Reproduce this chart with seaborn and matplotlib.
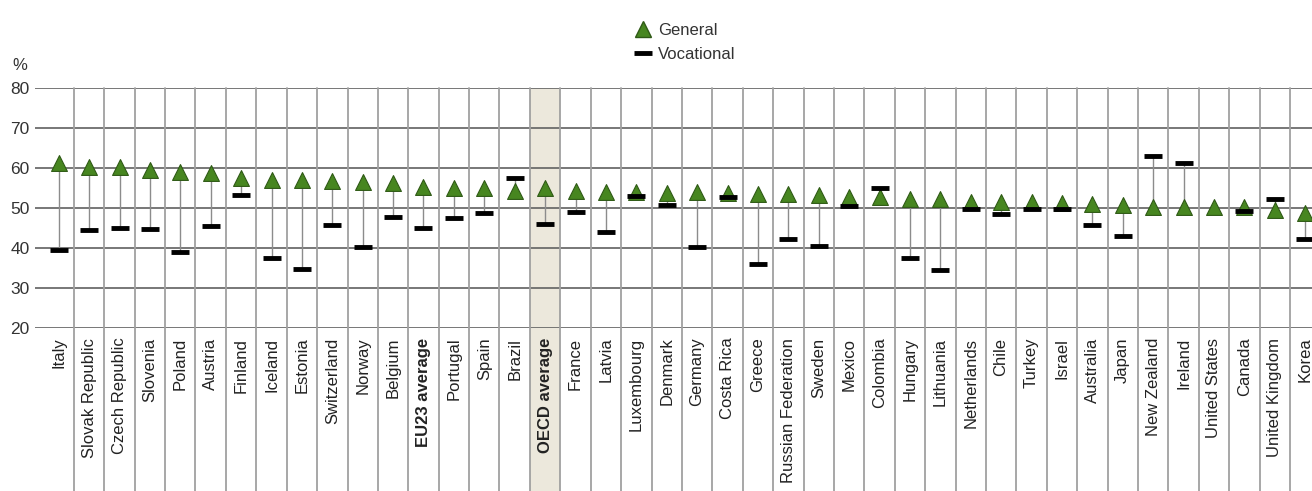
import numpy as np
import pandas as pd
import seaborn as sns
import matplotlib.pyplot as plt
from matplotlib.lines import Line2D

# data (% of students)
countries = [
    "Italy", "Slovak Republic", "Czech Republic", "Slovenia", "Poland",
    "Austria", "Finland", "Iceland", "Estonia", "Switzerland", "Norway",
    "Belgium", "EU23 average", "Portugal", "Spain", "Brazil", "OECD average",
    "France", "Latvia", "Luxembourg", "Denmark", "Germany", "Costa Rica",
    "Greece", "Russian Federation", "Sweden", "Mexico", "Colombia", "Hungary",
    "Lithuania", "Netherlands", "Chile", "Turkey", "Israel", "Australia",
    "Japan", "New Zealand", "Ireland", "United States", "Canada",
    "United Kingdom", "Korea"
]
general = [
    61.3, 60.3, 60.3, 59.5, 59.0, 58.7, 57.5, 57.0, 57.0, 56.8, 56.5, 56.2,
    55.2, 55.0, 55.0, 54.3, 55.0, 54.3, 54.1, 54.0, 53.7, 53.9, 53.8, 53.5,
    53.4, 53.2, 52.7, 52.7, 52.2, 52.2, 51.6, 51.6, 51.6, 51.3, 51.0, 50.7,
    50.3, 50.3, 50.2, 50.3, 49.5, 48.7
]
vocational = [
    39.5, 44.5, 45.1, 44.8, 39.0, 45.6, 53.2, 37.6, 34.7, 45.7, 40.2, 47.8,
    45.0, 47.6, 48.8, 57.4, 46.1, 49.0, 44.1, 53.1, 50.7, 40.2, 52.7, 36.0,
    42.2, 40.6, 50.5, 54.9, 37.6, 34.5, 49.7, 48.5, 49.7, 49.7, 45.7, 43.1,
    63.1, 61.3, np.nan, 49.3, 52.2, 42.2
]
bold_labels = ["EU23 average", "OECD average"]
highlight = "OECD average"

green = "#478620"
grid_dark = "#6c6c6c"
grid_light = "#a0a0a0"
text_col = "#333333"

sns.set_style("white")
plt.rcParams['font.family'] = ['Liberation Sans', 'DejaVu Sans']

df = pd.DataFrame({'country': countries, 'general': general,
                   'vocational': vocational})
df['pos'] = np.arange(len(df))

W, H = 1312, 491
fig = plt.figure(figsize=(W / 100, H / 100), dpi=100)
col_w = 30.4
left_px, top_px, bot_px = 35, 88, 328
ax = fig.add_axes([left_px / W, 1 - bot_px / H, (W - left_px) / W,
                   (bot_px - top_px) / H])
x0 = -0.5 - (43.5 - left_px) / col_w
ax.set_xlim(x0, x0 + (W - left_px) / col_w)
ax.set_ylim(20, 80)

# extension of vertical lines below the plot (axes fraction)
below = -(H - bot_px) / (bot_px - top_px)

# highlighted OECD column
hi = countries.index(highlight)
ax.axvspan(hi - 0.5, hi + 0.5, ymin=below, ymax=1, color="#ece8dc",
           clip_on=False, zorder=0, lw=0)

# horizontal grid
for v in range(20, 81, 10):
    ax.axhline(v, color=grid_dark, lw=1.3, zorder=1)
# column separators running through the label area
for i in range(len(countries) - 1):
    ax.axvline(i + 0.5, ymin=below, ymax=1, color=grid_light, lw=1.3,
               clip_on=False, zorder=1)

# connectors
ax.vlines(df['pos'], df['vocational'], df['general'], color="#8c8c8c",
          lw=1.0, zorder=2)

sns.scatterplot(data=df, x='pos', y='general', marker='^', s=130,
                color=green, edgecolor="#2f5a16", linewidth=0.8, ax=ax,
                zorder=3, legend=False)
sns.scatterplot(data=df.dropna(), x='pos', y='vocational', marker='_',
                s=170, color='black', linewidth=3.5, ax=ax, zorder=4,
                legend=False)

for s in ax.spines.values():
    s.set_visible(False)
ax.set_xlabel("")
ax.set_ylabel("")
ax.set_yticks(range(20, 81, 10))
ax.tick_params(axis='y', length=3, color=grid_dark, pad=1, labelsize=12.5,
               labelcolor=text_col)
ax.set_xticks(df['pos'])
ax.set_xticklabels(countries, rotation=90, fontsize=12, color="#222222",
                   va='top', ha='center')
ax.tick_params(axis='x', length=0, pad=7)
for lab in ax.get_xticklabels():
    if lab.get_text() in bold_labels:
        lab.set_fontweight('bold')

fig.text(20 / W, 1 - 66 / H, "%", fontsize=12, color=text_col,
         ha='center', va='center')

handles = [
    Line2D([], [], marker='^', color=green, markeredgecolor="#2f5a16",
           markersize=12, lw=0, label='General'),
    Line2D([], [], marker='_', color='black', markersize=13, mew=3.5,
           lw=0, label='Vocational'),
]
fig.legend(handles=handles, loc='upper left',
           bbox_to_anchor=(628 / W, 1 - 16 / H), frameon=False,
           fontsize=12, handlelength=1.0, handletextpad=0.4,
           labelspacing=0.55, labelcolor=text_col, borderaxespad=0)

fig.savefig("out.png", dpi=100)
